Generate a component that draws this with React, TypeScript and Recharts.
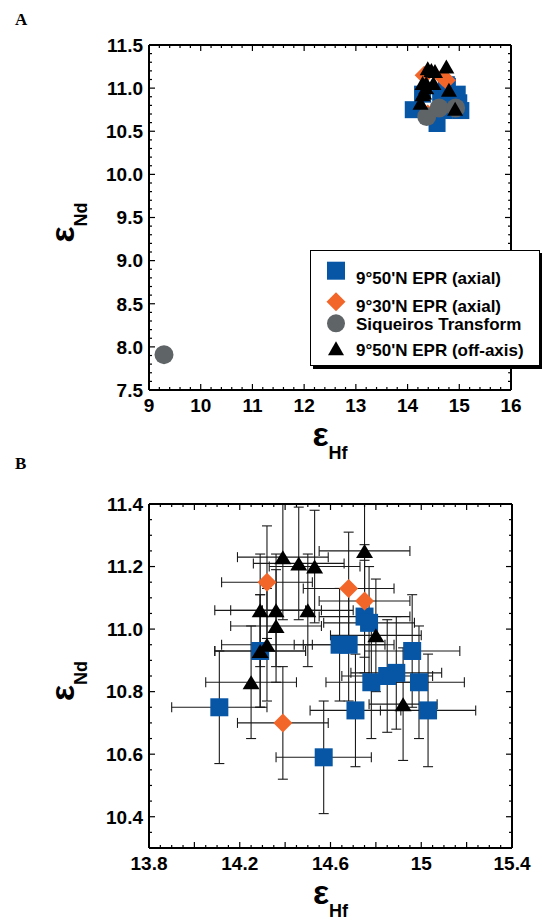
import React from 'react';
import { ScatterChart, Scatter, XAxis, YAxis, ErrorBar, Label } from 'recharts';

const FONT = '"Liberation Sans", Arial, Helvetica, sans-serif';

// [eHf, eNd, err Hf, err Nd]  (err Nd may be [below, above])
const epr950Axial = [
  [14.11, 10.75, 0.21, 0.18],
  [14.29, 10.93, 0.2, 0.18],
  [14.57, 10.59, 0.21, 0.18],
  [14.64, 10.95, 0.2, 0.18],
  [14.68, 10.95, 0.2, 0.18],
  [14.71, 10.74, 0.2, 0.18],
  [14.75, 11.04, 0.2, 0.18],
  [14.77, 11.02, 0.2, 0.18],
  [14.78, 10.83, 0.2, 0.18],
  [14.85, 10.85, 0.2, 0.18],
  [14.89, 10.86, 0.2, 0.18],
  [14.96, 10.93, 0.21, 0.18],
  [14.99, 10.83, 0.2, 0.18],
  [15.03, 10.74, 0.21, 0.18],
];

const epr930Axial = [
  [14.32, 11.15, 0.2, 0.18],
  [14.68, 11.13, 0.2, 0.18],
  [14.75, 11.09, 0.2, 0.18],
  [14.39, 10.7, 0.2, 0.18],
];

const epr950OffAxis: any[] = [
  [14.39, 11.23, 0.2, [0.2, 0.17]],
  [14.46, 11.21, 0.2, 0.18],
  [14.53, 11.2, 0.2, 0.18],
  [14.75, 11.25, 0.2, [0.2, 0.15]],
  [14.29, 11.06, 0.2, 0.18],
  [14.36, 11.06, 0.2, 0.18],
  [14.5, 11.06, 0.2, 0.18],
  [14.36, 11.01, 0.2, 0.18],
  [14.32, 10.95, 0.2, 0.18],
  [14.29, 10.93, 0.2, 0.18],
  [14.8, 10.98, 0.2, 0.18],
  [14.25, 10.83, 0.2, 0.18],
  [14.92, 10.76, 0.15, 0.18],
];

const siqueiros = [
  [9.29, 7.91],
  [14.37, 10.67],
  [14.61, 10.77],
  [14.93, 10.77],
];

const seriesNames = ["9°50'N EPR (axial)", "9°30'N EPR (axial)", 'Siqueiros Transform', "9°50'N EPR (off-axis)"];
const BLUE = '#0756a6';
const ORANGE = '#f2662a';
const GRAY = '#5f6467';

// axis ticks
const aXLabels = [9, 10, 11, 12, 13, 14, 15, 16];
const aYLabels = [7.5, 8, 8.5, 9, 9.5, 10, 10.5, 11, 11.5];
const bXLabels = [13.8, 14.2, 14.6, 15, 15.4];
const bYLabels = [10.4, 10.6, 10.8, 11, 11.2, 11.4];

const range = (a: number, b: number, step: number) => {
  const out: number[] = [];
  const n = Math.round((b - a) / step);
  for (let i = 0; i <= n; i++) out.push(Math.round((a + i * step) * 1000) / 1000);
  return out;
};

const aXMinor = range(9, 16, 0.2);
const aYMinor = range(7.5, 11.5, 0.1);
const bXMajor = range(13.8, 15.4, 0.2);
const bXMinor = range(13.8, 15.4, 0.05);
const bYMinor = range(10.3, 11.4, 0.05);

const toPoints = (rows: any[]) => rows.map(([x, y, ex = 0, ey = 0]: any[]) => ({ x, y, ex, ey }));

const has = (arr: number[], v: number) => arr.some((m) => Math.abs(m - v) < 1e-6);

type Side = 'bottom' | 'top' | 'left' | 'right';

// tick lines point into the plot; labels only on bottom / left
const makeTick = (side: Side, major: number[], labels: number[] | null, fmt: (v: number) => string) => (props: any) => {
  const { x, y, payload } = props;
  const v = payload.value;
  const len = has(major, v) ? 6 : 3;
  let x2 = x;
  let y2 = y;
  if (side === 'bottom') y2 = y - len;
  if (side === 'top') y2 = y + len;
  if (side === 'left') x2 = x + len;
  if (side === 'right') x2 = x - len;
  const show = labels && has(labels, v);
  return (
    <g>
      <line x1={x} y1={y} x2={x2} y2={y2} stroke="#000" strokeWidth={1.2} />
      {show && side === 'bottom' && (
        <text x={x} y={y + 22} textAnchor="middle" fontFamily={FONT} fontWeight="bold" fontSize={19} fill="#000">
          {fmt(v)}
        </text>
      )}
      {show && side === 'left' && (
        <text x={x - 6} y={y} dy="0.36em" textAnchor="end" fontFamily={FONT} fontWeight="bold" fontSize={19} fill="#000">
          {fmt(v)}
        </text>
      )}
    </g>
  );
};

const XTitle = (props: any) => {
  const { viewBox } = props;
  const cx = viewBox.x + viewBox.width / 2;
  return (
    <text x={cx} y={viewBox.y + 56} textAnchor="middle" fontFamily={FONT} fontWeight="bold" fill="#000">
      <tspan fontSize={34}>ε</tspan>
      <tspan fontSize={18} dy={13}>Hf</tspan>
    </text>
  );
};

const YTitle = (props: any) => {
  const { viewBox } = props;
  const tx = viewBox.x + viewBox.width - 75;
  const ty = viewBox.y + viewBox.height / 2 + 5;
  return (
    <text x={tx} y={ty} transform={`rotate(-90 ${tx} ${ty})`} textAnchor="middle" fontFamily={FONT} fontWeight="bold" fill="#000">
      <tspan fontSize={34}>ε</tspan>
      <tspan fontSize={18} dy={13}>Nd</tspan>
    </text>
  );
};

const square = (color: string, s: number) => (p: any) => (
  <rect x={p.cx - s / 2} y={p.cy - s / 2} width={s} height={s} fill={color} />
);
const diamond = (color: string, s: number) => (p: any) => (
  <polygon
    points={`${p.cx},${p.cy - s / 2} ${p.cx + s / 2},${p.cy} ${p.cx},${p.cy + s / 2} ${p.cx - s / 2},${p.cy}`}
    fill={color}
  />
);
const circle = (color: string, s: number) => (p: any) => <circle cx={p.cx} cy={p.cy} r={s / 2} fill={color} />;
const triangle = (color: string, w: number, h: number) => (p: any) => (
  <polygon
    points={`${p.cx},${p.cy - h / 2} ${p.cx + w / 2},${p.cy + h / 2} ${p.cx - w / 2},${p.cy + h / 2}`}
    fill={color}
  />
);
const nothing = () => <g />;

const commonAxis = {
  type: 'number' as const,
  allowDataOverflow: true,
  interval: 0 as const,
  tickSize: 0,
  tickMargin: 0,
  tickLine: false,
  axisLine: { stroke: '#000', strokeWidth: 2 },
};

const LegendBox = () => {
  const rows = [
    { mk: <rect x={17} y={11.7} width={18} height={18} fill={BLUE} />, ty: 28 },
    { mk: <polygon points="26,42.2 35.5,51.7 26,61.2 16.5,51.7" fill={ORANGE} />, ty: 55.7 },
    { mk: <circle cx={26} cy={73.3} r={9} fill={GRAY} />, ty: 74 },
    { mk: <polygon points="26,91.3 34,105.3 18,105.3" fill="#000" />, ty: 100 },
  ];
  return (
    <div
      style={{
        position: 'absolute',
        left: 310,
        top: 250,
        width: 228,
        height: 114,
        border: '1.5px solid #000',
        boxShadow: '3px 3px 0 #000',
        background: '#fff',
      }}
    >
      <svg width={228} height={114} style={{ position: 'absolute', left: -1.5, top: -1.5 }}>
        {rows.map((r, i) => (
          <g key={i}>
            {r.mk}
            <text x={46} y={r.ty} dy="0.36em" fontFamily={FONT} fontWeight="bold" fontSize={17} fill="#000">
              {seriesNames[i]}
            </text>
          </g>
        ))}
      </svg>
    </div>
  );
};

const panelLetter = (t: string, top: number) => (
  <div
    style={{
      position: 'absolute',
      left: 15,
      top,
      fontFamily: '"Liberation Serif", "Times New Roman", serif',
      fontWeight: 'bold',
      fontSize: 17,
      lineHeight: '17px',
    }}
  >
    {t}
  </div>
);

export default function App() {
  const blue = toPoints(epr950Axial);
  const orange = toPoints(epr930Axial);
  const black = toPoints(epr950OffAxis);
  const gray = toPoints(siqueiros);
  const allErr = [...blue, ...orange, ...black];

  const fmt1 = (v: number) => v.toFixed(1);
  const fmtS = (v: number) => String(v);

  return (
    <div style={{ position: 'absolute', left: 0, top: 0, width: 542, height: 921, background: '#fff' }}>
      {panelLetter('A', 11)}
      {panelLetter('B', 455)}

      <div style={{ position: 'absolute', left: 0, top: 0 }}>
        <ScatterChart width={542} height={470} margin={{ top: 44, right: 30, bottom: 79, left: 148 }}>
          <XAxis {...commonAxis} xAxisId="b" orientation="bottom" dataKey="x" height={1} domain={[9, 16]} ticks={aXMinor}
            tick={makeTick('bottom', aXLabels, aXLabels, fmtS)}>
            <Label content={<XTitle />} />
          </XAxis>
          <XAxis {...commonAxis} xAxisId="t" orientation="top" dataKey="x" height={1} domain={[9, 16]} ticks={aXMinor}
            tick={makeTick('top', aXLabels, null, fmtS)} />
          <YAxis {...commonAxis} yAxisId="l" orientation="left" dataKey="y" width={1} domain={[7.5, 11.5]} ticks={aYMinor}
            tick={makeTick('left', aYLabels, aYLabels, fmt1)}>
            <Label content={<YTitle />} />
          </YAxis>
          <YAxis {...commonAxis} yAxisId="r" orientation="right" dataKey="y" width={1} domain={[7.5, 11.5]} ticks={aYMinor}
            tick={makeTick('right', aYLabels, null, fmt1)} />
          <Scatter xAxisId="b" yAxisId="l" name={seriesNames[0]} data={blue} shape={square(BLUE, 17)} isAnimationActive={false} />
          <Scatter xAxisId="b" yAxisId="l" name={seriesNames[1]} data={orange} shape={diamond(ORANGE, 19)} isAnimationActive={false} />
          <Scatter xAxisId="b" yAxisId="l" name={seriesNames[2]} data={gray} shape={circle(GRAY, 19)} isAnimationActive={false} />
          <Scatter xAxisId="b" yAxisId="l" name={seriesNames[3]} data={black} shape={triangle('#000', 16, 14)} isAnimationActive={false} />
        </ScatterChart>
      </div>

      <LegendBox />

      <div style={{ position: 'absolute', left: 0, top: 470 }}>
        <ScatterChart width={542} height={451} margin={{ top: 33, right: 29, bottom: 72, left: 148 }}>
          <XAxis {...commonAxis} xAxisId="b" orientation="bottom" dataKey="x" height={1} domain={[13.8, 15.4]} ticks={bXMinor}
            tick={makeTick('bottom', bXMajor, bXLabels, fmtS)}>
            <Label content={<XTitle />} />
          </XAxis>
          <XAxis {...commonAxis} xAxisId="t" orientation="top" dataKey="x" height={1} domain={[13.8, 15.4]} ticks={bXMinor}
            tick={makeTick('top', bXMajor, null, fmtS)} />
          <YAxis {...commonAxis} yAxisId="l" orientation="left" dataKey="y" width={1} domain={[10.3, 11.4]} ticks={bYMinor}
            tick={makeTick('left', bYLabels, bYLabels, fmt1)}>
            <Label content={<YTitle />} />
          </YAxis>
          <YAxis {...commonAxis} yAxisId="r" orientation="right" dataKey="y" width={1} domain={[10.3, 11.4]} ticks={bYMinor}
            tick={makeTick('right', bYLabels, null, fmt1)} />
          <Scatter xAxisId="b" yAxisId="l" data={allErr} shape={nothing} legendType="none" isAnimationActive={false}>
            <ErrorBar dataKey="ex" direction="x" width={5} stroke="#1a1a1a" strokeWidth={1.1} isAnimationActive={false} />
            <ErrorBar dataKey="ey" direction="y" width={5} stroke="#1a1a1a" strokeWidth={1.1} isAnimationActive={false} />
          </Scatter>
          <Scatter xAxisId="b" yAxisId="l" name={seriesNames[0]} data={blue} shape={square(BLUE, 18)} isAnimationActive={false} />
          <Scatter xAxisId="b" yAxisId="l" name={seriesNames[1]} data={orange} shape={diamond(ORANGE, 19)} isAnimationActive={false} />
          <Scatter xAxisId="b" yAxisId="l" name={seriesNames[3]} data={black} shape={triangle('#000', 17, 14)} isAnimationActive={false} />
        </ScatterChart>
      </div>
    </div>
  );
}
